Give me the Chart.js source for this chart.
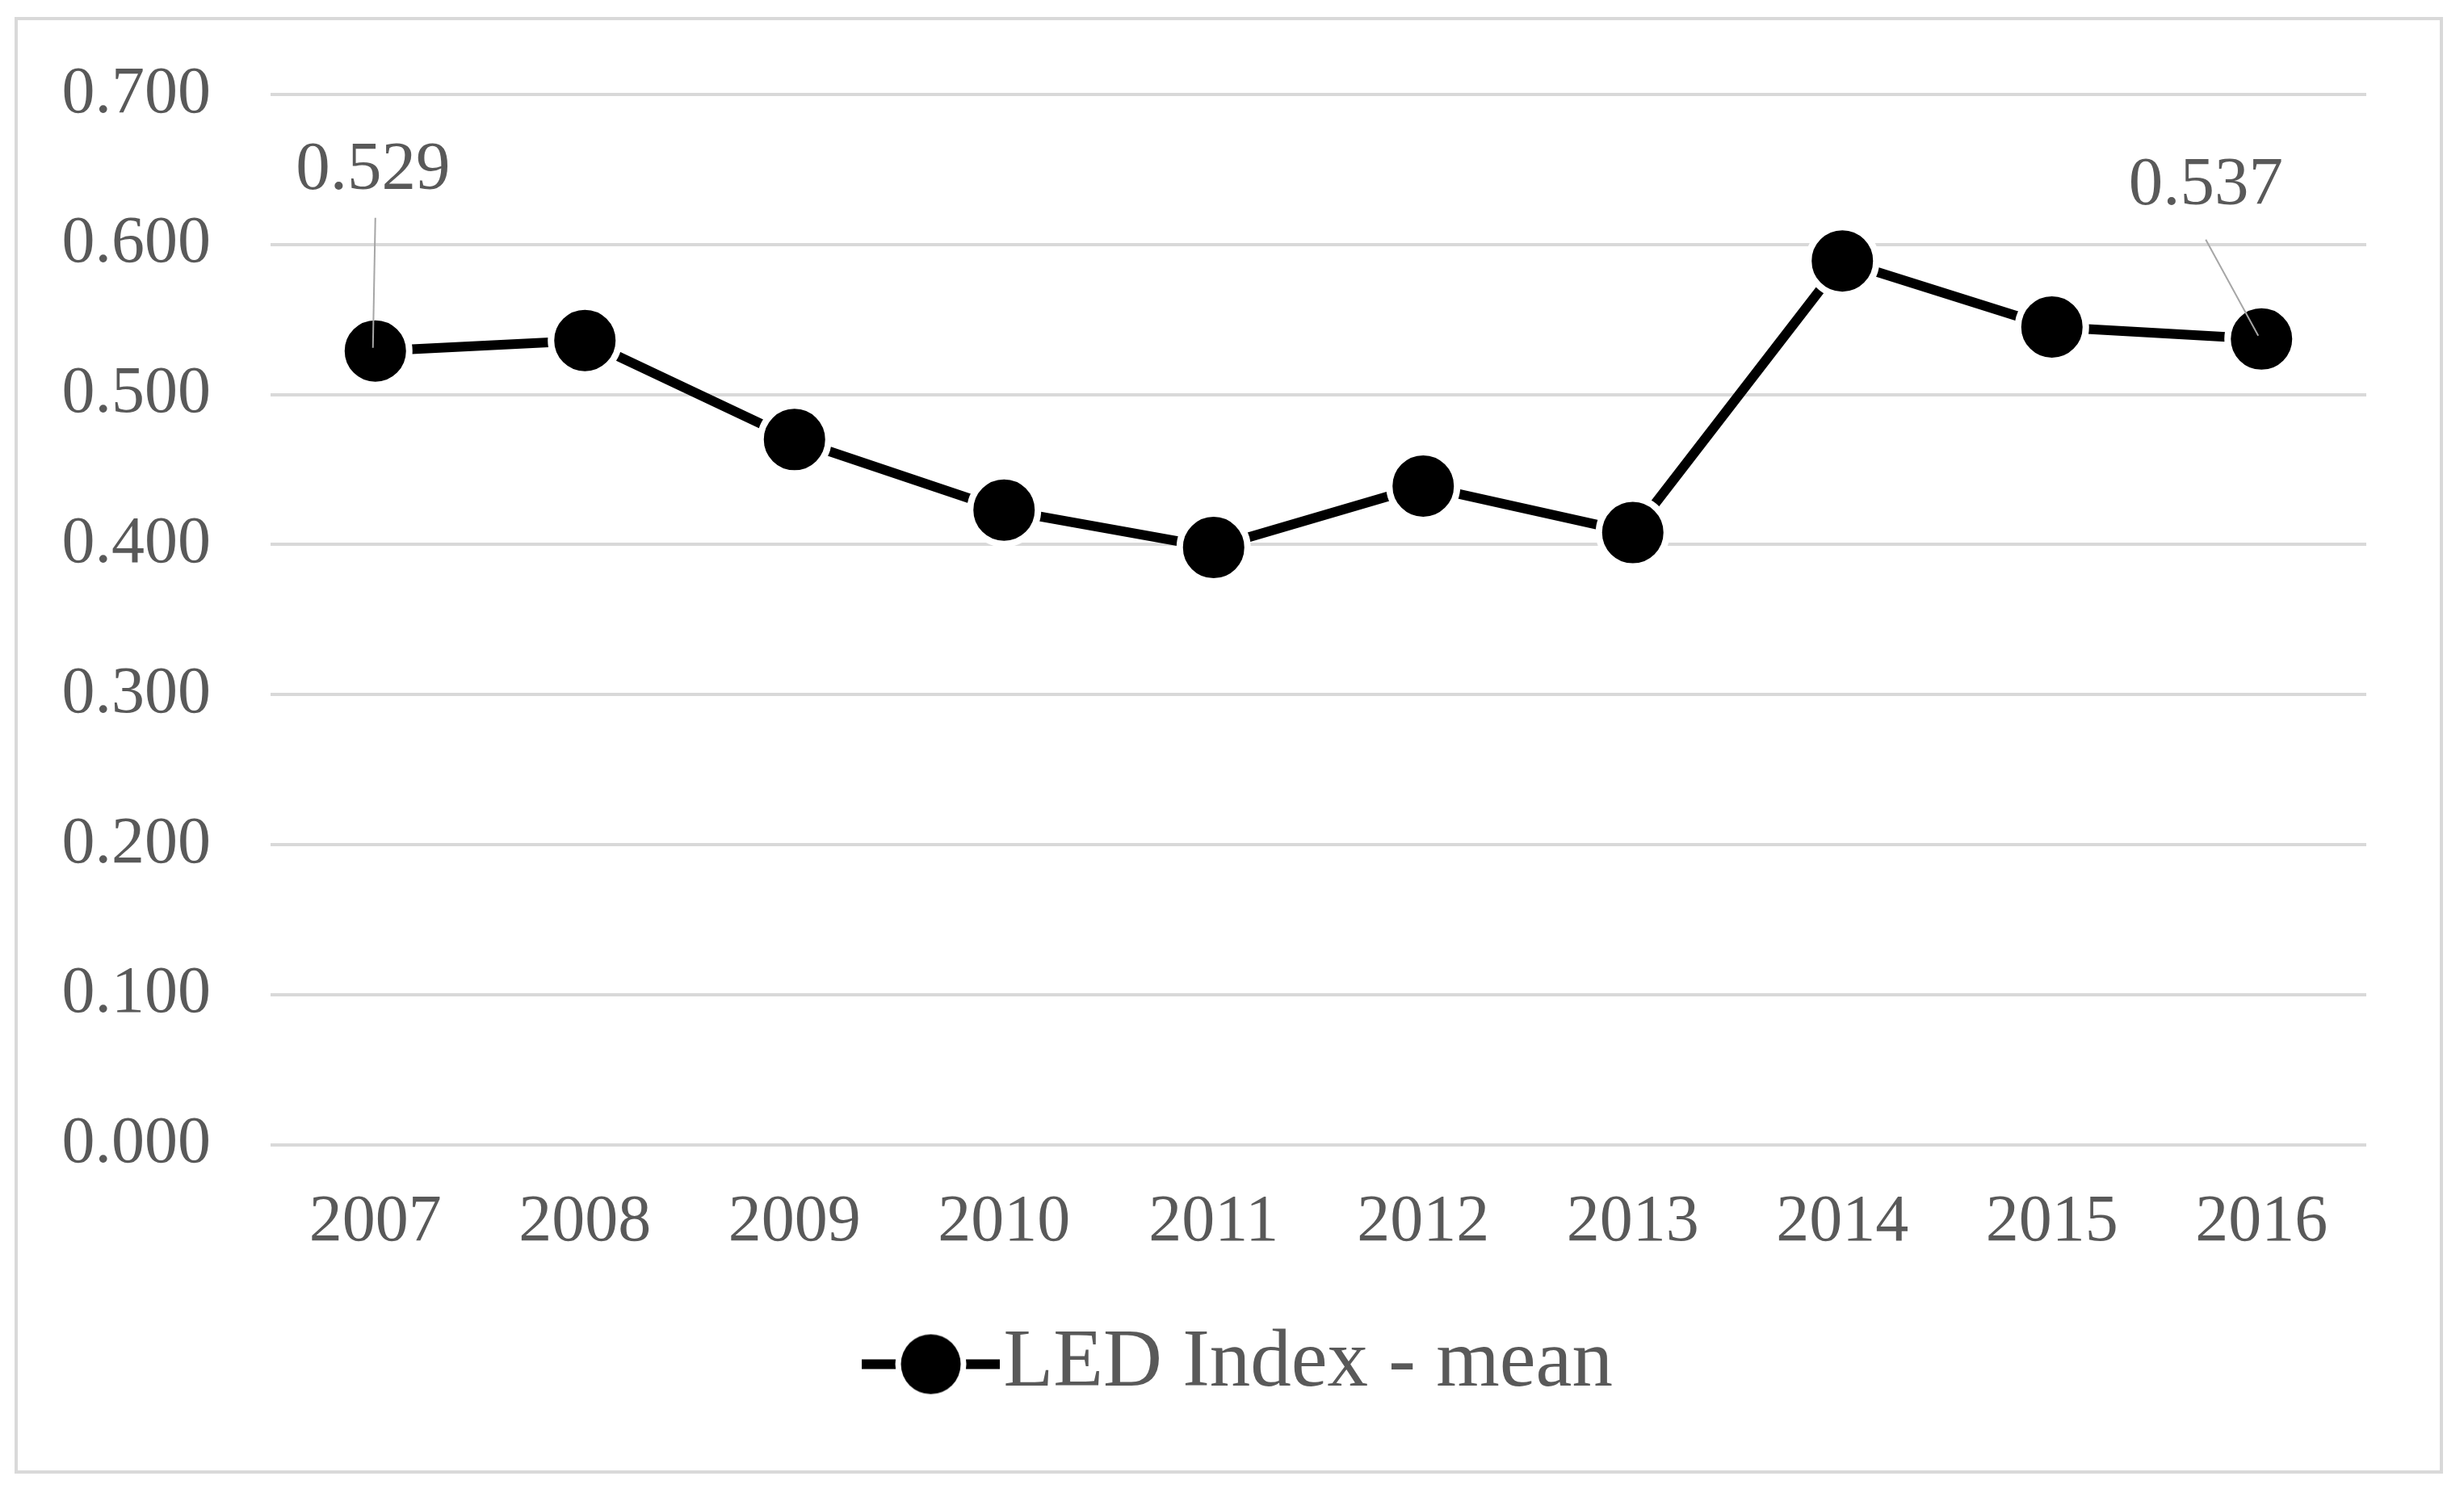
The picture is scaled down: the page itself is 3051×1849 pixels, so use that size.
<!DOCTYPE html>
<html><head><meta charset="utf-8">
<script src="https://cdn.jsdelivr.net/npm/chart.js@4"></script>
<style>
html,body{margin:0;padding:0;background:#fff;width:3051px;height:1849px;overflow:hidden}
#box{position:absolute;left:18px;top:21px;width:2999px;height:1796px;border:4px solid #d9d9d9;background:#fff}
canvas{display:block}
</style></head><body>
<div id="box"><canvas id="c" width="2999" height="1796"></canvas></div>
<script>
// ---- data ----
const years = ['2007','2008','2009','2010','2011','2012','2013','2014','2015','2016'];
const ledIndexMean = [0.529, 0.536, 0.470, 0.423, 0.398, 0.439, 0.408, 0.589, 0.545, 0.537];
const seriesName = 'LED Index - mean';
const yMin = 0, yMax = 0.7, yStep = 0.1;
const labelledPoints = [0, 9];

// ---- style ----
const FONT = "'Liberation Serif', 'Times New Roman', serif";
const TEXT = '#595959';

// legend marker image (line with circle)
const mk = document.createElement('canvas');
mk.width = 217; mk.height = 92;
(function(){
  const g = mk.getContext('2d');
  const x0 = 46, x1 = 217, cx = (x0 + x1) / 2, cy = 46;
  g.fillStyle = '#000';
  g.fillRect(x0, cy - 6, x1 - x0, 12);
  g.beginPath(); g.arc(cx, cy, 44, 0, Math.PI * 2); g.fillStyle = '#fff'; g.fill();
  g.beginPath(); g.arc(cx, cy, 37, 0, Math.PI * 2); g.fillStyle = '#000'; g.fill();
})();

const leaderLabels = {
  id: 'leaderLabels',
  afterLayout(chart) {
    if (chart.legend) { chart.legend.left += 29; chart.legend.right += 29; }
  },
  afterDatasetsDraw(chart) {
    const ctx = chart.ctx;
    const meta = chart.getDatasetMeta(0);
    const offsets = {0: {dx: -3, dy: -223, lx: 0, ly: -165}, 9: {dx: -69, dy: -189, lx: -69, ly: -123}};
    ctx.save();
    labelledPoints.forEach(i => {
      const p = meta.data[i];
      const o = offsets[i] || {dx: 0, dy: -200, lx: 0, ly: -140};
      ctx.strokeStyle = '#a6a6a6';
      ctx.lineWidth = 2;
      ctx.beginPath();
      ctx.moveTo(p.x + o.lx, p.y + o.ly);
      ctx.lineTo(p.x - (o.lx ? 4 : 3), p.y - 4);
      ctx.stroke();
      ctx.fillStyle = TEXT;
      ctx.font = '85px ' + FONT;
      ctx.textAlign = 'center';
      ctx.textBaseline = 'middle';
      ctx.fillText(ledIndexMean[i].toFixed(3), p.x + o.dx, p.y + o.dy);
    });
    ctx.restore();
  }
};

new Chart(document.getElementById('c'), {
  type: 'line',
  data: {
    labels: years,
    datasets: [{
      label: seriesName,
      data: ledIndexMean,
      borderColor: '#000',
      borderWidth: 12,
      backgroundColor: '#000',
      pointRadius: 42,
      pointBorderWidth: 8,
      pointBorderColor: '#fff',
      pointBackgroundColor: '#000',
      pointHoverRadius: 42,
      tension: 0,
      clip: false
    }]
  },
  options: {
    responsive: false,
    devicePixelRatio: 1,
    animation: false,
    layout: {padding: {left: 54, right: 91, top: 92, bottom: 71}},
    plugins: {
      tooltip: {enabled: false},
      legend: {
        position: 'bottom',
        labels: {
          usePointStyle: true,
          pointStyle: mk,
          pointStyleWidth: 125,
          padding: 27,
          color: TEXT,
          font: {family: FONT, size: 101}
        }
      }
    },
    scales: {
      x: {
        offset: true,
        grid: {display: false, drawTicks: false},
        border: {display: false},
        ticks: {color: TEXT, font: {family: FONT, size: 82}, padding: 48, maxRotation: 0}
      },
      y: {
        min: yMin, max: yMax,
        afterFit(scale) { scale.width = 259; scale.paddingTop = 40; scale.paddingBottom = 40; },
        grid: {color: '#d9d9d9', lineWidth: 4, drawTicks: false},
        border: {display: false},
        ticks: {stepSize: yStep, color: TEXT, font: {family: FONT, size: 82}, padding: 74,
          callback: v => Number(v).toFixed(3)}
      }
    }
  },
  plugins: [leaderLabels]
});
</script>
</body></html>
